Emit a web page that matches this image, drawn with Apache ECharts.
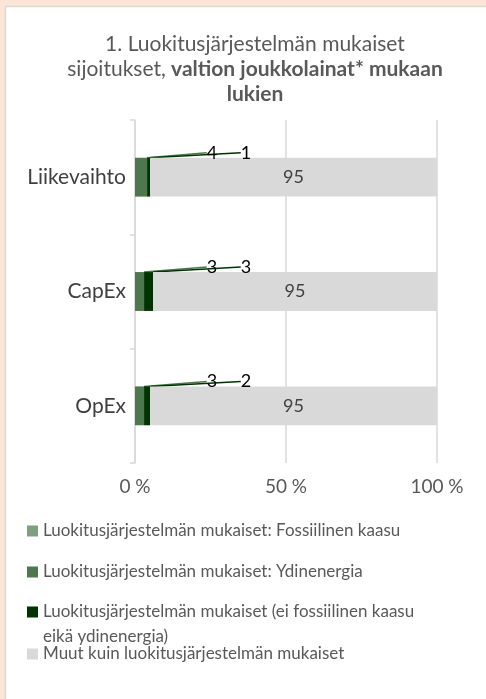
<!DOCTYPE html>
<html>
<head>
<meta charset="utf-8">
<script src="https://cdn.jsdelivr.net/npm/echarts@6/dist/echarts.min.js"></script>
<style>
  html, body { margin: 0; padding: 0; background: #fbe5d6; }
  #chart { width: 486px; height: 699px; }
</style>
</head>
<body>
<div id="chart"></div>
<script>
// data
const categories = ['Liikevaihto', 'CapEx', 'OpEx'];
const fossilGas = [0, 0, 0];
const nuclear = [4, 3, 3];
const alignedOther = [1, 3, 2];
const notAligned = [95, 95, 95];
const xTicks = [0, 50, 100];

const seriesNames = [
  'Luokitusjärjestelmän mukaiset: Fossiilinen kaasu',
  'Luokitusjärjestelmän mukaiset: Ydinenergia',
  'Luokitusjärjestelmän mukaiset (ei fossiilinen kaasu eikä ydinenergia)',
  'Muut kuin luokitusjärjestelmän mukaiset'
];
const colors = ['#7f9f7f', '#4f774f', '#003300', '#d9d9d9'];

const FONT = 'Lato';
const GRID_LEFT = 135;

const chart = echarts.init(document.getElementById('chart'));

// pienet luvut nostetaan palkin yläpuolelle ohjainviivan kanssa
function liftLabel(offset) {
  return function (params) {
    return {
      x: GRID_LEFT + offset,
      y: params.rect.y - 5,
      align: 'center',
      verticalAlign: 'middle'
    };
  };
}

const smallLabel = {
  show: true,
  color: '#000',
  fontFamily: FONT,
  fontSize: 18
};

const legendTops = [518.5, 559.5, 574.5, 641.5];

const options = {
  animation: false,
  backgroundColor: '#fbe5d6',
  textStyle: { fontFamily: FONT },
  graphic: [{
    type: 'rect',
    z: -10,
    shape: { x: 5.5, y: 6.5, width: 500, height: 720 },
    style: { fill: '#fff', stroke: '#d9d9d9', lineWidth: 1.5 }
  }],
  title: {
    text: '1. Luokitusjärjestelmän mukaiset\nsijoitukset, {b|valtion joukkolainat* mukaan}\n{b|lukien}',
    left: 250,
    top: 27,
    textAlign: 'center',
    textStyle: {
      fontFamily: FONT,
      fontSize: 21,
      fontWeight: 'normal',
      color: '#595959',
      lineHeight: 25,
      rich: {
        b: { fontFamily: FONT, fontSize: 21, fontWeight: 'bold', color: '#595959', lineHeight: 25 }
      }
    }
  },
  legend: [0, 1, 2, 3].map(function (i) {
    return {
      data: [seriesNames[i]],
      left: 27,
      top: legendTops[i],
      padding: 0,
      icon: 'rect',
      itemWidth: 11,
      itemHeight: 11,
      itemGap: 4,
      formatter: function (name) {
        // kaksirivinen selite: tyhjä rivi yläpuolelle, jotta ikoni osuu ensimmäiselle riville
        if (name.indexOf('kaasu eikä') >= 0) {
          return ' \n' + name.replace('kaasu eikä', 'kaasu\neikä');
        }
        return name;
      },
      textStyle: {
        fontFamily: FONT,
        fontSize: 17,
        color: '#595959',
        lineHeight: 25
      },
      selectedMode: false
    };
  }),
  grid: {
    left: GRID_LEFT,
    right: 49,
    top: 120,
    bottom: 236
  },
  xAxis: {
    type: 'value',
    min: xTicks[0],
    max: xTicks[xTicks.length - 1],
    interval: xTicks[1] - xTicks[0],
    axisLine: { show: false },
    axisTick: { show: false },
    axisLabel: {
      formatter: '{value} %',
      color: '#595959',
      fontFamily: FONT,
      fontSize: 19,
      margin: 14
    },
    splitLine: { show: true, lineStyle: { color: '#d9d9d9', width: 1.5 } }
  },
  yAxis: {
    type: 'category',
    data: categories,
    inverse: true,
    axisLine: { show: true, lineStyle: { color: '#d9d9d9', width: 1.5 } },
    axisTick: { show: true, length: 5, lineStyle: { color: '#d9d9d9', width: 1.5 } },
    axisLabel: {
      color: '#404040',
      fontFamily: FONT,
      fontSize: 21,
      margin: 9
    }
  },
  series: [
    {
      name: seriesNames[0],
      type: 'bar',
      stack: 'total',
      barCategoryGap: '66%',
      data: fossilGas,
      itemStyle: { color: colors[0] }
    },
    {
      name: seriesNames[1],
      type: 'bar',
      stack: 'total',
      data: nuclear,
      itemStyle: { color: colors[1] },
      label: smallLabel,
      labelLayout: liftLabel(77),
      labelLine: { show: true, lineStyle: { color: colors[1], width: 1.5 } }
    },
    {
      name: seriesNames[2],
      type: 'bar',
      stack: 'total',
      data: alignedOther,
      itemStyle: { color: colors[2] },
      label: smallLabel,
      labelLayout: liftLabel(111),
      labelLine: { show: true, lineStyle: { color: colors[2], width: 1.5 } }
    },
    {
      name: seriesNames[3],
      type: 'bar',
      stack: 'total',
      data: notAligned,
      itemStyle: { color: colors[3] },
      label: {
        show: true,
        position: 'inside',
        color: '#404040',
        fontFamily: FONT,
        fontSize: 18
      }
    }
  ]
};

chart.setOption(options);
window.addEventListener('resize', function () { chart.resize(); });
</script>
</body>
</html>
